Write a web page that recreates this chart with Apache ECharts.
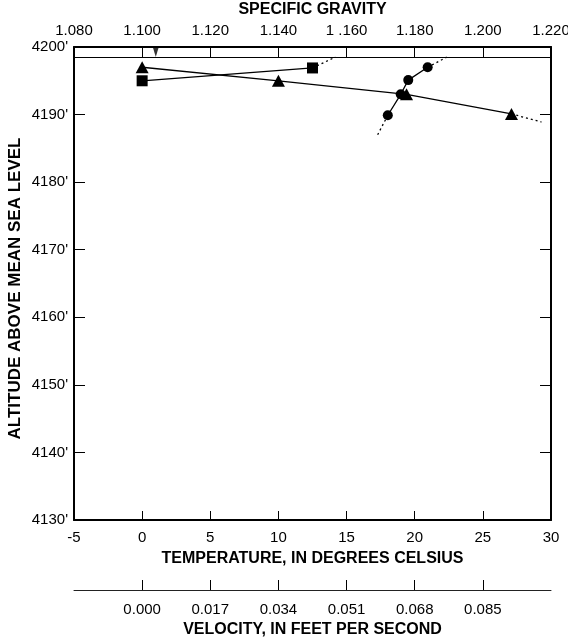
<!DOCTYPE html>
<html><head><meta charset="utf-8">
<script src="https://cdn.jsdelivr.net/npm/echarts@6/dist/echarts.min.js"></script>
<style>html,body{margin:0;padding:0;background:#fff}#c{width:568px;height:640px}</style>
</head><body><div id="c"></div>
<script>
// ---- tick labels ----
const sgTickLabels = ['1.080','1.100','1.120','1.140','1 .160','1.180','1.200','1.220'];
const velocityTickValues = [0.000, 0.017, 0.034, 0.051, 0.068, 0.085];
const temperatureInnerTicks = [0, 5, 10, 15, 20, 25];
const sgInnerTicks = [1.100, 1.120, 1.140, 1.160, 1.180, 1.200];

// ---- triangles: temperature (deg C) vs altitude ----
const triTemperature = [0, 10, 19.4, 27.1];
const triAltitude = [4197.0, 4195.0, 4193.0, 4190.1];
const triExtTemperature = [27.1, 29.3];
const triExtAltitude = [4190.1, 4188.9];

// ---- circles: specific gravity vs altitude ----
const circSG = [1.1838, 1.1781, 1.1759, 1.1721];
const circAltitude = [4197.0, 4195.1, 4193.0, 4189.9];
const circTopExtSG = [1.1838, 1.1894];
const circTopExtAltitude = [4197.0, 4198.5];
const circBotExtSG = [1.1721, 1.1688];
const circBotExtAltitude = [4189.9, 4186.7];

// ---- squares: velocity (ft/s) vs altitude ----
const sqVelocity = [0.000, 0.0425];
const sqAltitude = [4195.0, 4196.9];
const sqExtVelocity = [0.0425, 0.0482];
const sqExtAltitude = [4196.9, 4198.5];

// ---- water surface ----
const waterSurfaceAltitude = 4198.5;
const waterSymbolSG = [1.104];
const waterSymbolAltitude = [4199.25];

const zip = (a, b) => a.map((v, i) => [v, b[i]]);
const FONT = 'Liberation Sans';
const black = '#000';
const LBL = 15;
const NAME = 16;

const chart = echarts.init(document.getElementById('c'), null, {renderer: 'canvas'});
chart.setOption({
  backgroundColor: '#fff',
  animation: false,
  grid: {left: 74, right: 17, top: 47, bottom: 120, containLabel: false, outerBoundsMode: 'none'},
  xAxis: [
    { // temperature (bottom)
      type: 'value', position: 'bottom', min: -5, max: 30, interval: 5,
      name: 'TEMPERATURE, IN DEGREES CELSIUS', nameLocation: 'middle', nameGap: 31,
      nameTextStyle: {fontFamily: FONT, fontWeight: 'bold', fontSize: NAME, color: black},
      axisLine: {show: true, onZero: false, lineStyle: {color: black, width: 2}},
      axisTick: {show: true, inside: true, length: 9, customValues: temperatureInnerTicks, lineStyle: {color: black, width: 1}},
      axisLabel: {fontFamily: FONT, fontSize: LBL, color: black, margin: 10},
      splitLine: {show: false}
    },
    { // specific gravity (top)
      type: 'value', position: 'top', min: 1.08, max: 1.22, interval: 0.02,
      name: 'SPECIFIC GRAVITY', nameLocation: 'middle', nameGap: 29,
      nameTextStyle: {fontFamily: FONT, fontWeight: 'bold', fontSize: NAME, color: black},
      axisLine: {show: true, onZero: false, lineStyle: {color: black, width: 2}},
      axisTick: {show: true, inside: true, length: 10, customValues: sgInnerTicks, lineStyle: {color: black, width: 1}},
      axisLabel: {fontFamily: FONT, fontSize: LBL, color: black, margin: 9,
        formatter: v => sgTickLabels[Math.round((v - 1.08) / 0.02)]},
      splitLine: {show: false}
    },
    { // velocity (separate bottom scale)
      type: 'value', position: 'bottom', offset: 70, min: -0.017, max: 0.102, interval: 0.017,
      name: 'VELOCITY, IN FEET PER SECOND', nameLocation: 'middle', nameGap: 32,
      nameTextStyle: {fontFamily: FONT, fontWeight: 'bold', fontSize: NAME, color: black},
      axisLine: {show: true, onZero: false, lineStyle: {color: '#222', width: 1}},
      axisTick: {show: true, inside: true, length: 10, customValues: velocityTickValues, lineStyle: {color: black, width: 1}},
      axisLabel: {fontFamily: FONT, fontSize: LBL, color: black, margin: 12,
        customValues: velocityTickValues, formatter: v => v.toFixed(3)},
      splitLine: {show: false}
    }
  ],
  yAxis: [
    {
      type: 'value', position: 'left', min: 4130, max: 4200, interval: 10,
      name: 'ALTITUDE ABOVE MEAN SEA LEVEL', nameLocation: 'middle', nameGap: 50, nameMoveOverlap: false,
      nameTextStyle: {fontFamily: FONT, fontWeight: 'bold', fontSize: 17, color: black, padding: [0, 10, 0, 0]},
      axisLine: {show: true, onZero: false, lineStyle: {color: black, width: 2}},
      axisTick: {show: true, inside: true, length: 11, lineStyle: {color: black, width: 1}},
      axisLabel: {fontFamily: FONT, fontSize: LBL, color: black, margin: 6, formatter: v => v + "'"},
      splitLine: {show: false}
    },
    {
      type: 'value', position: 'right', min: 4130, max: 4200, interval: 10,
      axisLine: {show: true, onZero: false, lineStyle: {color: black, width: 2}},
      axisTick: {show: true, inside: true, length: 11, lineStyle: {color: black, width: 1}},
      axisLabel: {show: false},
      splitLine: {show: false}
    }
  ],
  series: [
    { // water surface line + symbol
      type: 'scatter', xAxisIndex: 1, yAxisIndex: 0,
      data: zip(waterSymbolSG, waterSymbolAltitude),
      symbol: 'triangle', symbolRotate: 180, symbolSize: [6, 10],
      itemStyle: {color: black},
      markLine: {silent: true, symbol: 'none', label: {show: false},
        lineStyle: {color: black, width: 1, type: 'solid'},
        data: [{yAxis: waterSurfaceAltitude}]},
      z: 5
    },
    {type: 'line', xAxisIndex: 0, yAxisIndex: 0, data: zip(triExtTemperature, triExtAltitude),
      showSymbol: false, lineStyle: {color: black, width: 1.3, type: [2, 3]}},
    {type: 'line', xAxisIndex: 1, yAxisIndex: 0, data: zip(circTopExtSG, circTopExtAltitude),
      showSymbol: false, lineStyle: {color: black, width: 1.3, type: [2, 3]}},
    {type: 'line', xAxisIndex: 1, yAxisIndex: 0, data: zip(circBotExtSG, circBotExtAltitude),
      showSymbol: false, lineStyle: {color: black, width: 1.3, type: [2, 3]}},
    {type: 'line', xAxisIndex: 2, yAxisIndex: 0, data: zip(sqExtVelocity, sqExtAltitude),
      showSymbol: false, lineStyle: {color: black, width: 1.3, type: [2, 3]}},
    {type: 'line', xAxisIndex: 0, yAxisIndex: 0, data: zip(triTemperature, triAltitude),
      symbol: 'triangle', symbolSize: [13, 12], showAllSymbol: true,
      lineStyle: {color: black, width: 1.3}, itemStyle: {color: black}, z: 4},
    {type: 'line', xAxisIndex: 1, yAxisIndex: 0, data: zip(circSG, circAltitude),
      symbol: 'circle', symbolSize: 10, showAllSymbol: true,
      lineStyle: {color: black, width: 1.3}, itemStyle: {color: black}, z: 4},
    {type: 'line', xAxisIndex: 2, yAxisIndex: 0, data: zip(sqVelocity, sqAltitude),
      symbol: 'rect', symbolSize: 11, showAllSymbol: true,
      lineStyle: {color: black, width: 1.3}, itemStyle: {color: black}, z: 4}
  ]
});
</script></body></html>
